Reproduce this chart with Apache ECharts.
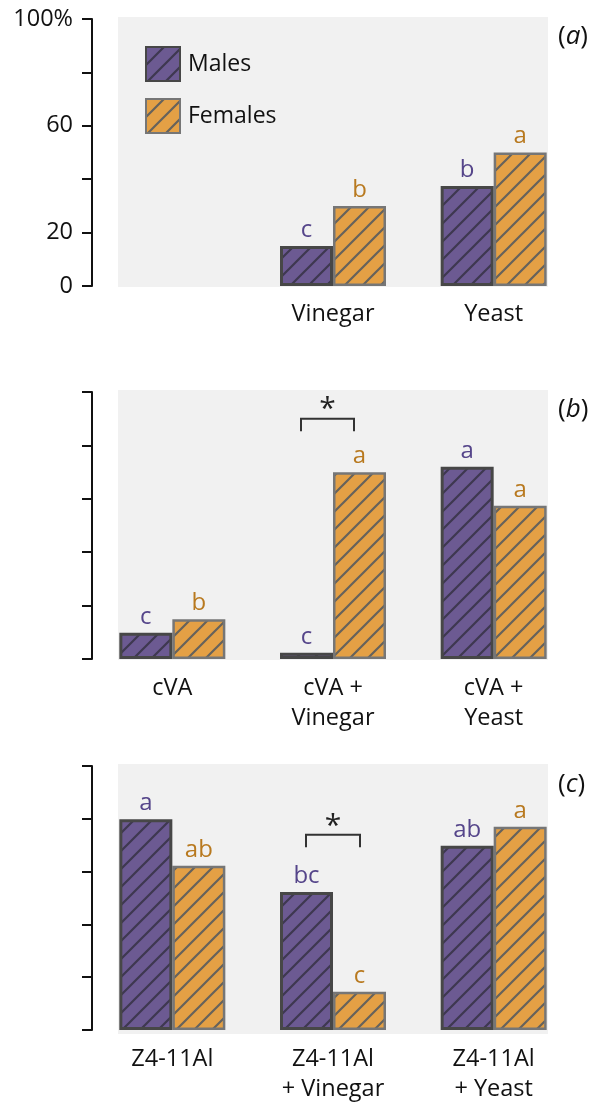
<!DOCTYPE html>
<html>
<head>
<meta charset="utf-8">
<script src="https://cdn.jsdelivr.net/npm/echarts@6/dist/echarts.min.js"></script>
<style>html,body{margin:0;padding:0;background:#fff;}#c{width:595px;height:1104px;}</style>
</head>
<body>
<div id="c"></div>
<script>
// ---- data ----
const seriesNames = ['Males', 'Females'];
const catsA = ['', 'Vinegar', 'Yeast'];
const malesA = [null, 15, 37.5];
const femalesA = [null, 30, 50];
const lettersMalesA = ['', 'c', 'b'];
const lettersFemalesA = ['', 'b', 'a'];

const catsB = ['cVA', 'cVA +\nVinegar', 'cVA +\nYeast'];
const malesB = [9.8, 2.3, 72];
const femalesB = [14.9, 69.9, 57.4];
const lettersMalesB = ['c', 'c', 'a'];
const lettersFemalesB = ['b', 'a', 'a'];

const catsC = ['Z4-11Al', 'Z4-11Al\n+ Vinegar', 'Z4-11Al\n+ Yeast'];
const malesC = [79.8, 52.3, 69.8];
const femalesC = [62.2, 14.5, 77];
const lettersMalesC = ['a', 'bc', 'ab'];
const lettersFemalesC = ['ab', 'c', 'a'];

// significance brackets: [categoryIndex, bracketTop, bracketEnd, starValue]
const bracketB = [[1, 90, 85.3, 93.3]];
const bracketC = [[1, 74, 69.2, 77.2]];

const yTickLabels = {0: '0', 20: '20', 60: '60', 100: '100%'};
const panelLabels = ['a', 'b', 'c'];

// ---- styling ----
const FONT = 'Open Sans';
function makePattern(fill, stroke, lw) {
  const s = 18;
  const c = document.createElement('canvas');
  c.width = s; c.height = s;
  const ctx = c.getContext('2d');
  ctx.fillStyle = fill; ctx.fillRect(0, 0, s, s);
  ctx.strokeStyle = stroke; ctx.lineWidth = lw;
  ctx.beginPath();
  ctx.moveTo(-1, s + 1); ctx.lineTo(s + 1, -1);
  ctx.moveTo(-2, 2); ctx.lineTo(2, -2);
  ctx.moveTo(s - 2, s + 2); ctx.lineTo(s + 2, s - 2);
  ctx.stroke();
  return c;
}
const malePattern = {image: makePattern('#6c5a92', '#3e3850', 2.2), repeat: 'repeat'};
const femalePattern = {image: makePattern('#e4a045', '#66625c', 2.2), repeat: 'repeat'};
const maleStyle = {color: malePattern, borderColor: '#474747', borderWidth: 3};
const femaleStyle = {color: femalePattern, borderColor: '#767676', borderWidth: 2.5};
const maleText = '#55458a';
const femaleText = '#b8791f';

const panels = [
  {top: 19, cats: catsA, m: malesA, f: femalesA, lm: lettersMalesA, lf: lettersFemalesA, br: null},
  {top: 392, cats: catsB, m: malesB, f: femalesB, lm: lettersMalesB, lf: lettersFemalesB, br: bracketB, bx: [-32, 21]},
  {top: 766, cats: catsC, m: malesC, f: femalesC, lm: lettersMalesC, lf: lettersFemalesC, br: bracketC, bx: [-27, 27]}
];
const H = 267;

const grid = [], xAxis = [], yAxis = [], series = [], graphic = [];
panels.forEach((p, i) => {
  grid.push({left: 92, right: 21, top: p.top, height: H, containLabel: false});
  graphic.push({type: 'rect', z: -10, shape: {x: 118, y: p.top - 2, width: 430, height: H + 3}, style: {fill: '#f1f1f1'}});
  graphic.push({type: 'text', x: 558, y: [37, 410, 785][i], style: {
    text: '(' + '{i|' + panelLabels[i] + '})', rich: {i: {fontStyle: 'italic', fontFamily: FONT, fontSize: 26, fill: '#111'}},
    fontFamily: FONT, fontSize: 26, fill: '#111', verticalAlign: 'middle'}});
  xAxis.push({type: 'category', gridIndex: i, data: p.cats,
    axisLine: {show: false}, axisTick: {show: false},
    axisLabel: {fontFamily: FONT, fontSize: 23.5, color: '#111', margin: i === 0 ? 13 : 14, lineHeight: 30, interval: 0}});
  yAxis.push({type: 'value', gridIndex: i, min: 0, max: 100, interval: 20,
    axisLine: {show: true, lineStyle: {color: '#111', width: 2}},
    axisTick: {show: true, length: 10, lineStyle: {color: '#111', width: 2}},
    splitLine: {show: false},
    axisLabel: {show: i === 0, margin: 19, fontFamily: FONT, fontSize: 23.5, color: '#111',
      formatter: v => yTickLabels[v] !== undefined ? yTickLabels[v] : ''}});
  series.push({name: 'Males', type: 'bar', xAxisIndex: i, yAxisIndex: i, data: p.m,
    barWidth: 53, barGap: '0%', itemStyle: maleStyle, z: 3,
    label: {show: true, position: 'top', distance: 4, color: maleText, fontFamily: FONT, fontSize: 24,
      formatter: prm => p.lm[prm.dataIndex]}});
  series.push({name: 'Females', type: 'bar', xAxisIndex: i, yAxisIndex: i, data: p.f,
    barWidth: 53, barGap: '0%', itemStyle: femaleStyle, z: 2,
    label: {show: true, position: 'top', distance: 4, color: femaleText, fontFamily: FONT, fontSize: 24,
      formatter: prm => p.lf[prm.dataIndex]}});
  if (p.br) {
    series.push({type: 'custom', xAxisIndex: i, yAxisIndex: i, data: p.br, z: 5, silent: true,
      renderItem: (params, api) => {
        const top = api.coord([api.value(0), api.value(1)]);
        const end = api.coord([api.value(0), api.value(2)]);
        const star = api.coord([api.value(0), api.value(3)]);
        const x1 = top[0] + p.bx[0], x2 = top[0] + p.bx[1];
        return {type: 'group', children: [
          {type: 'polyline', shape: {points: [[x1, end[1]], [x1, top[1]], [x2, top[1]], [x2, end[1]]]},
            style: {stroke: '#333', lineWidth: 2, fill: null}},
          {type: 'text', x: (x1 + x2) / 2, y: star[1], style: {text: '*', fontFamily: FONT, fontSize: 30,
            fill: '#222', align: 'center', verticalAlign: 'middle'}}
        ]};
      }});
  }
});

const chart = echarts.init(document.getElementById('c'), null, {renderer: 'canvas'});
chart.setOption({
  animation: false,
  backgroundColor: '#fff',
  grid, xAxis, yAxis, series, graphic,
  legend: {data: seriesNames, orient: 'vertical', left: 145, top: 46, padding: 0, itemWidth: 34, itemHeight: 34, itemGap: 16,
    icon: 'rect', selectedMode: false,
    textStyle: {fontFamily: FONT, fontSize: 23, color: '#111', padding: [0, 0, 0, 3]}}
});
</script>
</body>
</html>
